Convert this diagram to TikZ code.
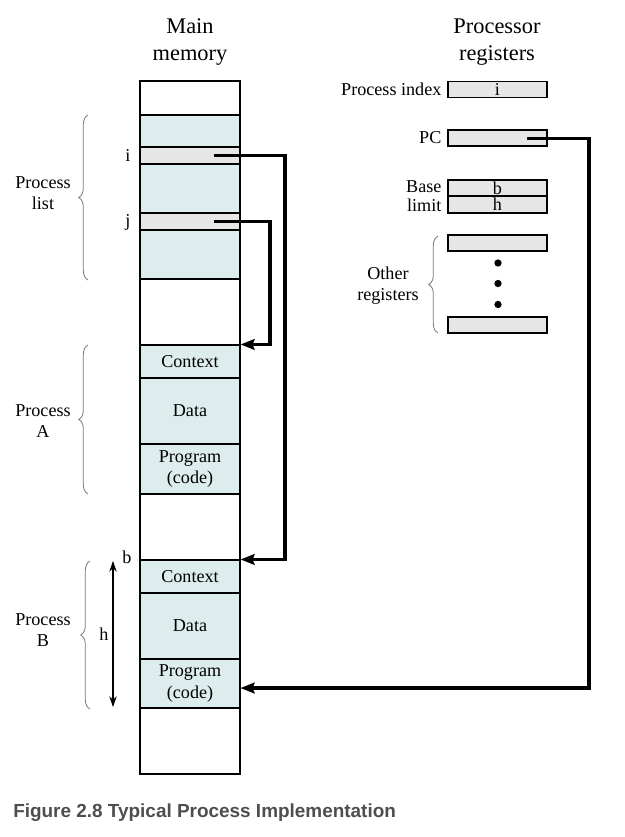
\documentclass[tikz,border=0pt]{standalone}
\usepackage{fontspec}
\setmainfont{Liberation Serif}
\newfontfamily\capfont{Liberation Sans}
\usetikzlibrary{arrows.meta,decorations.pathreplacing,calc}
\definecolor{cellblue}{RGB}{221,236,236}
\definecolor{cellgray}{RGB}{230,230,230}
\definecolor{capgray}{RGB}{78,78,78}
\definecolor{bracegray}{RGB}{120,120,120}
\newcommand\bodyf{\fontsize{13.6}{15.8}\selectfont}
\newcommand\headf{\fontsize{16.8}{20.3}\selectfont}
\begin{document}
\begin{tikzpicture}[x=0.75pt,y=-0.75pt,
  cell/.style={draw,line width=0.8pt,inner sep=0pt,minimum width=75pt,minimum height=#1*0.75pt,font=\bodyf,align=center},
  wcell/.style={cell=#1,fill=white},
  bcell/.style={cell=#1,fill=cellblue},
  gcell/.style={cell=#1,fill=cellgray},
  reg/.style={draw,line width=0.8pt,fill=cellgray,inner sep=0pt,minimum width=74.25pt,minimum height=#1*0.75pt,font=\bodyf},
  lbl/.style={font=\bodyf,inner sep=1pt},
  rlbl/.style={lbl,anchor=east},
  head/.style={font=\headf,align=center},
  side/.style={font=\bodyf,align=center},
  ptr/.style={line width=2.4pt,-{Stealth[length=10.5pt,width=8pt,inset=1.5pt]}},
  brc/.style={draw=bracegray,line width=0.6pt,decorate,decoration={brace,amplitude=7pt}},
  dot/.style={circle,fill=black,inner sep=0pt,minimum size=5.5pt}
]
\useasboundingbox (0,0) rectangle (624,837);

% headings
\node[head] (hmain) at (190,42) {Main\\memory};
\node[head] (hproc) at (497,42) {Processor\\registers};

% main memory
\node[wcell=34] (m0) at (190,98) {};
\node[bcell=32] (m1) at (190,131) {};
\node[gcell=17] (mi) at (190,155.5) {};
\node[bcell=49] (m2) at (190,188.5) {};
\node[gcell=17] (mj) at (190,221.5) {};
\node[bcell=49] (m3) at (190,254.5) {};
\node[wcell=66] (m4) at (190,312) {};
\node[bcell=33] (actx) at (190,361.5) {Context};
\node[bcell=66] (adata) at (190,411) {Data};
\node[bcell=50] (aprog) at (190,469) {Program\\(code)};
\node[wcell=66] (m5) at (190,527) {};
\node[bcell=33] (bctx) at (190,576.5) {Context};
\node[bcell=66] (bdata) at (190,626) {Data};
\node[bcell=49] (bprog) at (190,683.5) {Program\\(code)};
\node[wcell=66] (m6) at (190,741) {};

% labels beside memory
\node[lbl] (li) at (128,156) {i};
\node[lbl] (lj) at (128,222) {j};
\node[lbl] (lb) at (127,557) {b};
\node[lbl] (lh) at (104,634) {h};

% braces and side labels
\draw[brc] (88,280) -- (88,115);
\node[side] (plist) at (43,193) {Process\\list};
\draw[brc] (88,494) -- (88,345);
\node[side] (pa) at (43,421) {Process\\A};
\draw[brc] (90,709) -- (90,561);
\node[side] (pb) at (43,630) {Process\\B};

% h extent arrow
\coordinate (hT) at (113,561);
\coordinate (hB) at (113,707);
\draw[line width=0.8pt,{Stealth[length=8pt,width=5.5pt]}-{Stealth[length=8pt,width=5.5pt]}] (hT) -- (hB);

% registers
\node[reg=16] (pidx) at (497.5,89.5) {i};
\node[rlbl] (lpidx) at (443,89.5) {Process index};
\node[reg=16] (pc) at (497.5,138) {};
\node[rlbl] (lpc) at (443,138) {PC};
\node[reg=16] (base) at (497.5,188) {b};
\node[rlbl] (lbase) at (443,187) {Base};
\node[reg=17] (limit) at (497.5,204.5) {h};
\node[rlbl] (llimit) at (443,205) {limit};
\node[reg=16] (r1) at (497.5,243) {};
\node[dot] (d1) at (498,263) {};
\node[dot] (d2) at (498,283.5) {};
\node[dot] (d3) at (498,304.5) {};
\node[reg=16] (r2) at (497.5,325) {};
\draw[brc] (438,333) -- (438,236);
\node[side] (other) at (388,285.5) {Other\\registers};

% pointers
\coordinate (iS) at (214,155.5);
\coordinate (jS) at (214,221.5);
\coordinate (pcS) at (527,138.5);
\draw[ptr] (iS) -- ++(71,0) |- (bctx.north east);
\draw[ptr] (jS) -- ++(56,0) |- (actx.north east);
\draw[ptr] (pcS) -- ++(62,0) |- ([yshift=-3.4pt]bprog.east);

% caption
\node[anchor=west,inner sep=0pt,font=\capfont\bfseries\fontsize{14.2}{17}\selectfont,text=capgray] (cap) at (13,813) {Figure 2.8 Typical Process Implementation};
\end{tikzpicture}
\end{document}
